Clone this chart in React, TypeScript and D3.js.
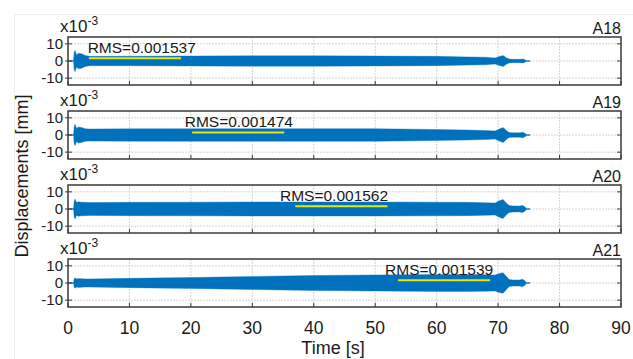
import React from "react";
import * as d3 from "d3";

// envelope of each record (units of 1e-3 mm)
const time = [0, 0.9, 1.0, 1.15, 1.4, 1.7, 2.2, 2.8, 3.5, 10, 20, 30, 40, 50, 60, 65, 68, 69.5, 70.2, 70.8, 71.4, 71.8, 72.5, 73.5, 74, 74.4, 74.6, 75.2];
const ampA18 = [0, 0, 5, 6.2, 3.5, 4.5, 4.2, 3.2, 2.7, 2.8, 2.9, 3.0, 3.0, 2.9, 2.7, 2.4, 2.2, 1.8, 2.6, 3.2, 1.8, 1.1, 1.0, 1.0, 1.1, 0.8, 0, 0];
const ampA19 = [0, 0, 5, 6.2, 3.8, 4.7, 4.4, 3.7, 3.5, 3.6, 3.7, 3.7, 3.7, 3.7, 3.2, 2.9, 2.6, 2.4, 3.5, 4.4, 2.5, 1.4, 1.3, 1.3, 1.6, 1.0, 0, 0];
const ampA20 = [0, 0, 4.5, 5.8, 3.8, 4.2, 4.0, 3.9, 3.8, 3.9, 4.0, 4.1, 4.1, 4.1, 4.0, 3.9, 3.7, 3.5, 4.8, 5.6, 3.2, 2.0, 1.8, 1.7, 2.1, 1.2, 0, 0];
const ampA21 = [0, 0, 2.5, 3.0, 2.4, 2.6, 2.5, 2.4, 2.4, 2.7, 3.2, 3.8, 4.4, 4.7, 4.9, 5.0, 4.8, 4.6, 5.6, 6.0, 3.6, 2.0, 1.8, 1.8, 2.2, 1.2, 0, 0];

const sensors = ["A18", "A19", "A20", "A21"];
const amps = [ampA18, ampA19, ampA20, ampA21];
const rmsValues = [0.001537, 0.001474, 0.001562, 0.001539];
const rmsStart = [3.4, 20.2, 37, 53.7];
const rmsEnd = [18.4, 35.2, 52, 68.7];
const rmsLabelAt = [3.2, 19.0, 34.5, 51.6];

const xTicks = [0, 10, 20, 30, 40, 50, 60, 70, 80, 90];
const yTicks = [10, 0, -10];

const W = 633;
const H = 359;
const left = 68;
const right = 621;
const panelTops = [37, 111, 185, 259];
const panelH = 48;
const font = "Liberation Sans, Arial, sans-serif";
const blue = "#0072BD";

export default function App() {
  const x = d3.scaleLinear().domain([0, 90]).range([left, right]);

  return (
    <svg width={W} height={H} style={{ position: "absolute", left: 0, top: 0 }} fontFamily={font}>
      <rect x={0} y={0} width={W} height={H} fill="#fff" />
      <rect x={14.5} y={14.5} width={W} height={H} fill="none" stroke="#efefef" />
      {sensors.map((name, i) => {
        const top = panelTops[i];
        const y = d3.scaleLinear().domain([-14, 14]).range([top + panelH, top]);
        const area = d3
          .area<number>()
          .x((_, k) => x(time[k]))
          .y0((a) => y(-a))
          .y1((a) => y(a));
        const zero = d3
          .line<number>()
          .x((t) => x(t))
          .y(() => y(0));
        return (
          <g key={name}>
            {/* grid */}
            {xTicks.slice(1, -1).map((t) => (
              <line key={"gx" + t} x1={x(t)} x2={x(t)} y1={top} y2={top + panelH} stroke="#d4d4d4" strokeDasharray="2 1" />
            ))}
            {yTicks.map((v) => (
              <line key={"gy" + v} x1={left} x2={right} y1={y(v)} y2={y(v)} stroke="#d4d4d4" strokeDasharray="2 1" />
            ))}
            {/* signal */}
            <path d={zero(d3.extent(time) as number[]) || ""} stroke={blue} strokeWidth={1} fill="none" />
            <path d={area(amps[i]) || ""} fill={blue} stroke={blue} strokeOpacity={0.45} strokeWidth={0.8} />
            {/* rms */}
            <line x1={x(rmsStart[i])} x2={x(rmsEnd[i])} y1={y(rmsValues[i] * 1000)} y2={y(rmsValues[i] * 1000)} stroke="#e8e800" strokeWidth={2} />
            <text x={x(rmsLabelAt[i])} y={y(4.8)} fontSize={15.5} fill="#1a1a1a">
              {"RMS=" + rmsValues[i]}
            </text>
            {/* box + ticks */}
            <rect x={left} y={top} width={right - left} height={panelH} fill="none" stroke="#3a3a3a" strokeWidth={1.5} />
            {yTicks.map((v) => (
              <g key={"ty" + v}>
                <line x1={left - 3} x2={left + 4} y1={y(v)} y2={y(v)} stroke="#3a3a3a" />
                <line x1={right - 4} x2={right} y1={y(v)} y2={y(v)} stroke="#3a3a3a" />
                <text x={left - 5} y={y(v) + 5} fontSize={15} textAnchor="end" fill="#1a1a1a">
                  {v}
                </text>
              </g>
            ))}
            {xTicks.map((t) => (
              <line key={"tx" + t} x1={x(t)} x2={x(t)} y1={top + panelH} y2={top + panelH - 4} stroke="#3a3a3a" />
            ))}
            <text x={60} y={top - 5} fontSize={17} fill="#1a1a1a">
              x10
              <tspan dy={-7} fontSize={12}>
                -3
              </tspan>
            </text>
            <text x={right} y={top - 3} fontSize={16} textAnchor="end" fill="#1a1a1a">
              {name}
            </text>
          </g>
        );
      })}
      {xTicks.map((t) => (
        <text key={"lx" + t} x={x(t)} y={334} fontSize={17.5} textAnchor="middle" fill="#1a1a1a">
          {t}
        </text>
      ))}
      <text x={333} y={354} fontSize={18} textAnchor="middle" fill="#1a1a1a">
        Time [s]
      </text>
      <text transform="translate(28,176) rotate(-90)" fontSize={18} textAnchor="middle" fill="#1a1a1a">
        Displacements [mm]
      </text>
    </svg>
  );
}
